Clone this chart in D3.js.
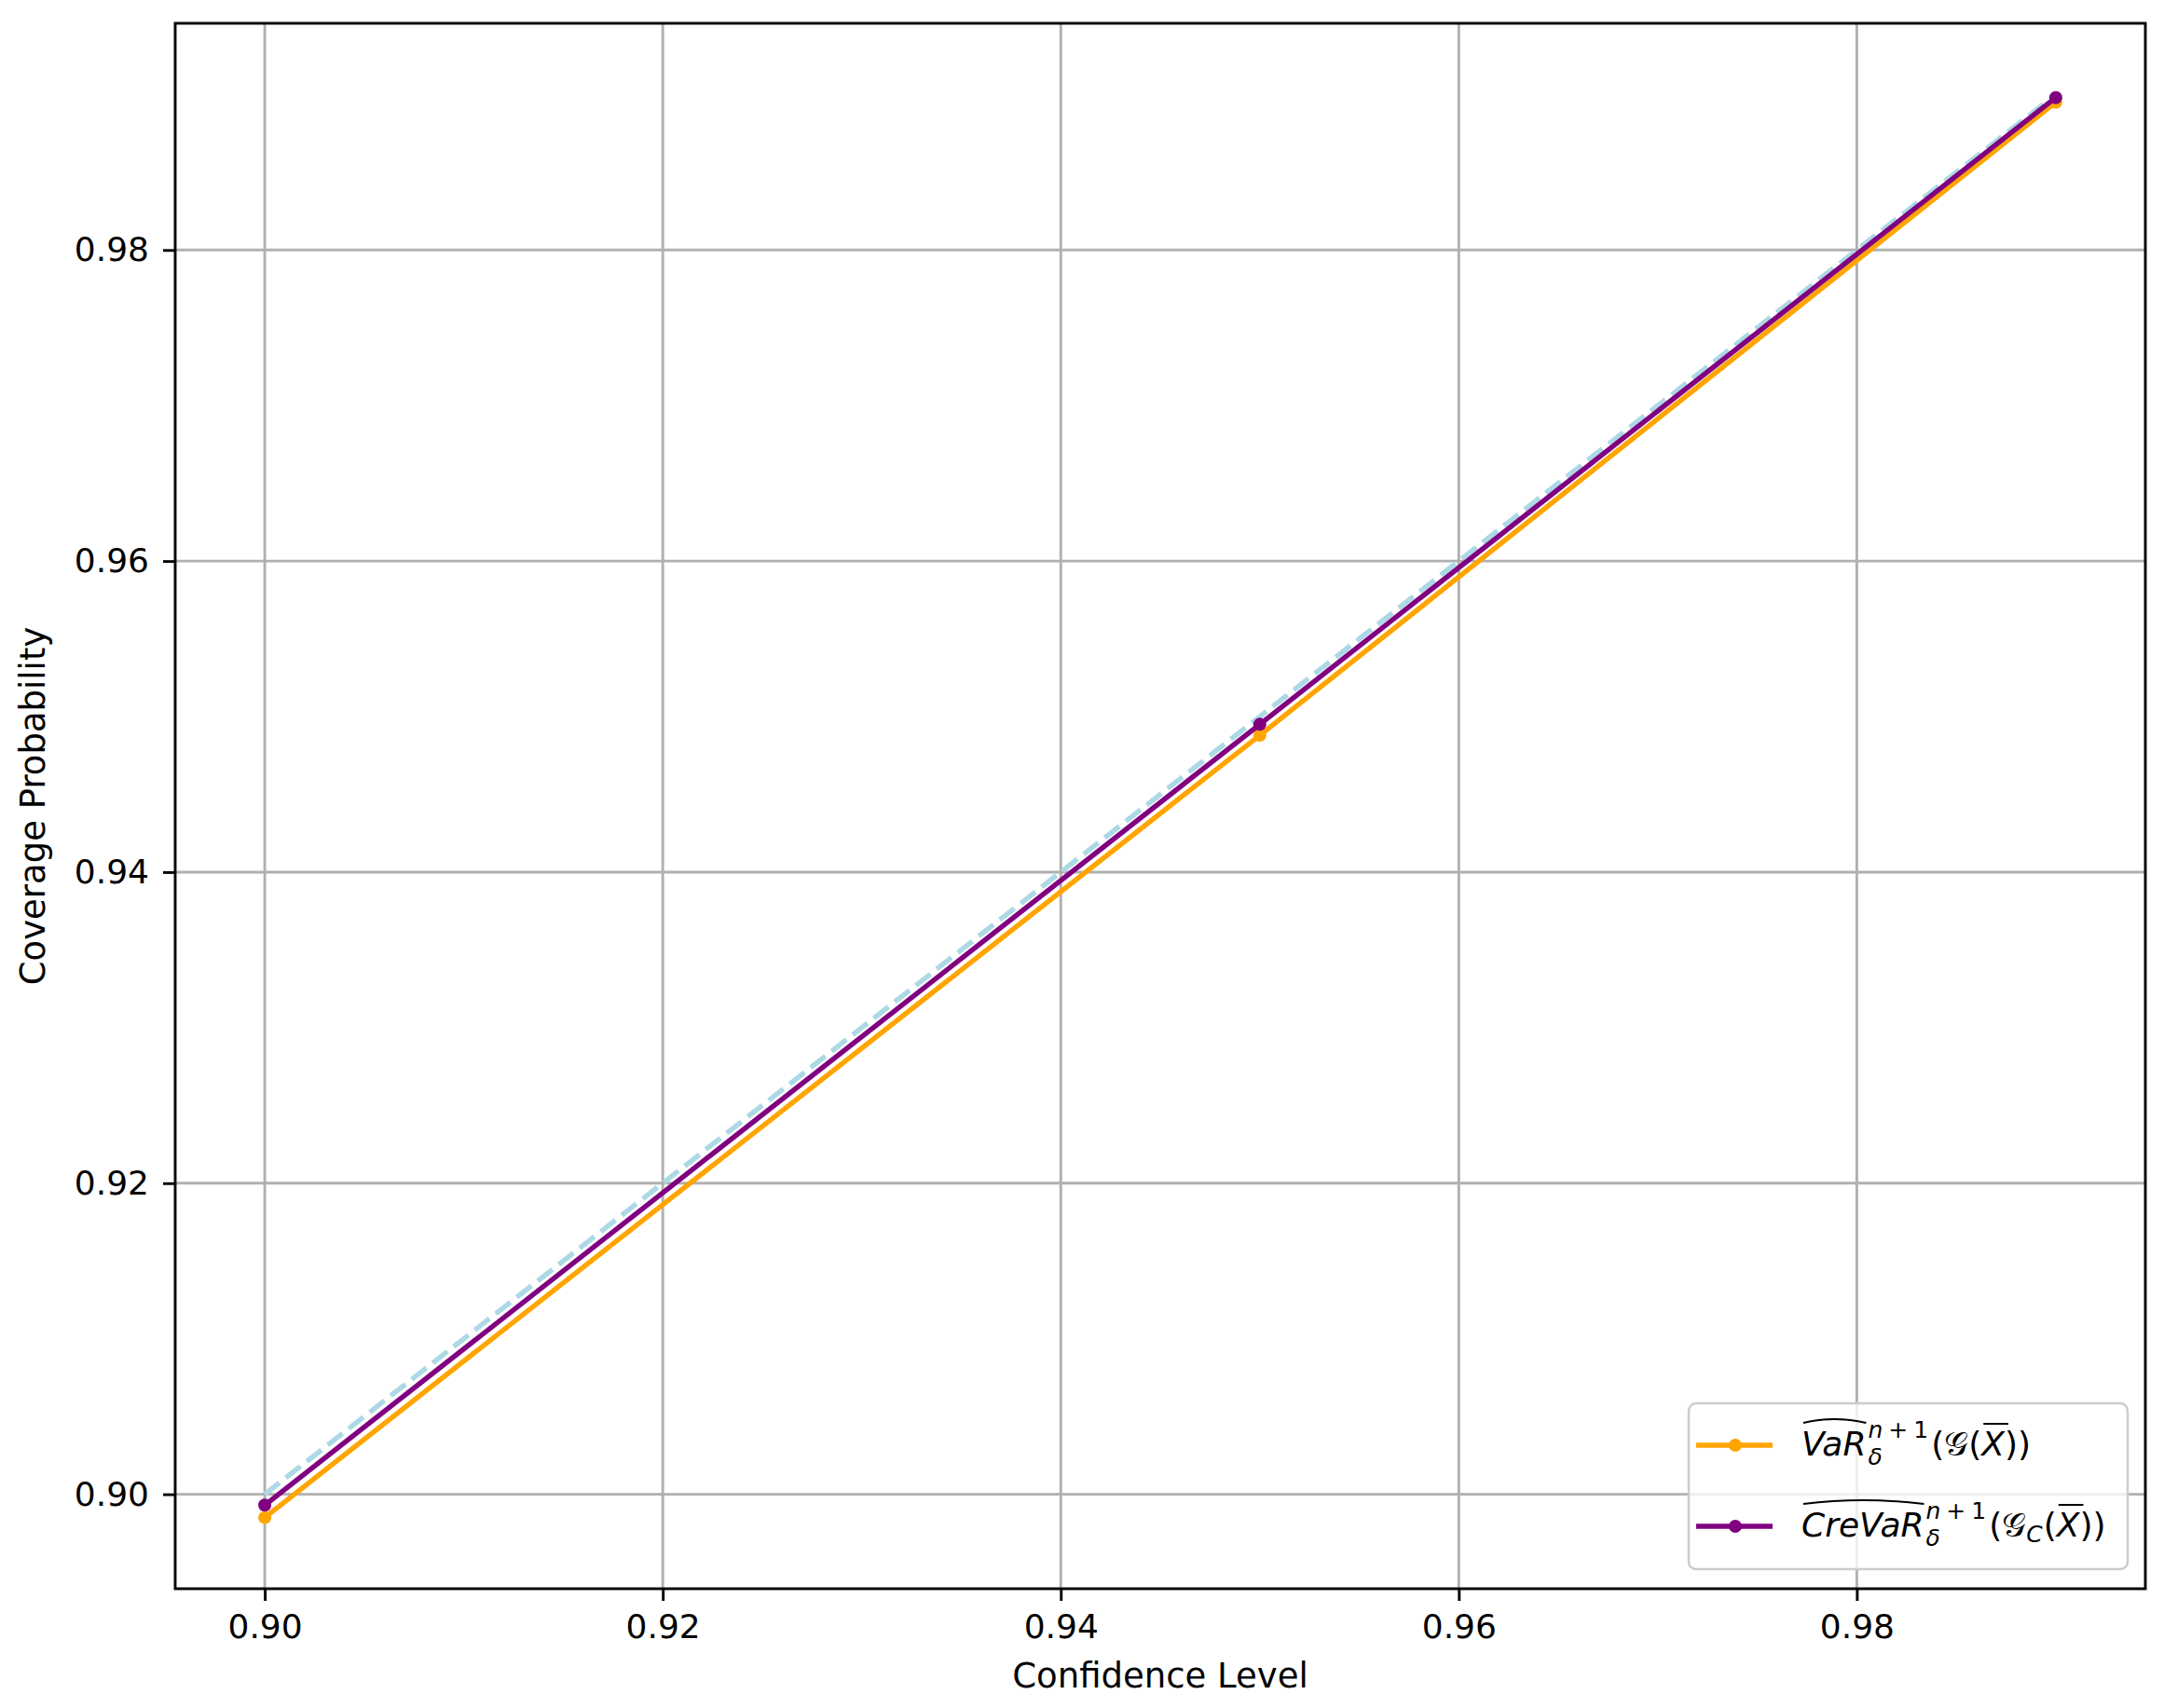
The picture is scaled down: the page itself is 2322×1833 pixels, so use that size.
<!DOCTYPE html>
<html>
<head>
<meta charset="utf-8">
<script src="https://cdn.jsdelivr.net/npm/d3@7"></script>
<style>
  body { margin: 0; background: #fff; }
  text { font-family: "DejaVu Sans", sans-serif; fill: #000; }
</style>
</head>
<body>
<div id="chart"></div>
<script>
// confidence levels and the coverage
var levels = [0.90, 0.95, 0.99];
var varCoverage = [0.8985, 0.9488, 0.9895];
var creCoverage = [0.8993, 0.9495, 0.9898];
var idealCoverage = [0.90, 0.95, 0.99];
var xTicks = [0.90, 0.92, 0.94, 0.96, 0.98];
var yTicks = [0.90, 0.92, 0.94, 0.96, 0.98];
var xLabel = "Confidence Level";
var yLabel = "Coverage Probability";

var W = 2322, H = 1833;
var margin = { top: 25, right: 20, bottom: 128, left: 188 };
var width = W - margin.left - margin.right,
    height = H - margin.top - margin.bottom;

var svg = d3.select("#chart").append("svg")
    .attr("width", W)
    .attr("height", H);

svg.append("rect").attr("width", W).attr("height", H).attr("fill", "#fff");

// matplotlib style 5% margins
function padded(vals) {
    var e = d3.extent(vals), r = e[1] - e[0];
    return [e[0] - 0.05 * r, e[1] + 0.05 * r];
}

var x = d3.scaleLinear().domain(padded(levels)).range([0, width]);
var y = d3.scaleLinear()
    .domain(padded(varCoverage.concat(creCoverage, idealCoverage)))
    .range([height, 0]);

var g = svg.append("g")
    .attr("transform", "translate(" + margin.left + "," + margin.top + ")");

// grid
g.append("g").selectAll("line").data(xTicks).enter().append("line")
    .attr("x1", function (d) { return x(d); })
    .attr("x2", function (d) { return x(d); })
    .attr("y1", 0).attr("y2", height)
    .attr("stroke", "#b0b0b0").attr("stroke-width", 2.9);
g.append("g").selectAll("line").data(yTicks).enter().append("line")
    .attr("y1", function (d) { return y(d); })
    .attr("y2", function (d) { return y(d); })
    .attr("x1", 0).attr("x2", width)
    .attr("stroke", "#b0b0b0").attr("stroke-width", 2.9);

var line = d3.line()
    .x(function (d) { return x(d[0]); })
    .y(function (d) { return y(d[1]); });

function pairs(vals) {
    return levels.map(function (l, i) { return [l, vals[i]]; });
}

g.append("path")
    .datum(pairs(idealCoverage))
    .attr("d", line)
    .attr("fill", "none")
    .attr("stroke", "lightblue")
    .attr("stroke-width", 5.4)
    .attr("stroke-dasharray", "20,8.6");

var series = [
    { vals: varCoverage, color: "orange" },
    { vals: creCoverage, color: "purple" }
];

series.forEach(function (s) {
    g.append("path")
        .datum(pairs(s.vals))
        .attr("d", line)
        .attr("fill", "none")
        .attr("stroke", s.color)
        .attr("stroke-width", 5.4)
        .attr("stroke-linejoin", "round");
    g.append("g").selectAll("circle").data(pairs(s.vals)).enter().append("circle")
        .attr("cx", function (d) { return x(d[0]); })
        .attr("cy", function (d) { return y(d[1]); })
        .attr("r", 7)
        .attr("fill", s.color);
});

// axes
var xAxis = d3.axisBottom(x).tickValues(xTicks).tickFormat(d3.format(".2f"))
    .tickSize(13).tickPadding(14);
var yAxis = d3.axisLeft(y).tickValues(yTicks).tickFormat(d3.format(".2f"))
    .tickSize(13).tickPadding(15);

var gx = g.append("g").attr("transform", "translate(0," + height + ")").call(xAxis);
var gy = g.append("g").call(yAxis);
[gx, gy].forEach(function (a) {
    a.select(".domain").remove();
    a.selectAll(".tick line").attr("stroke", "#000").attr("stroke-width", 2.9);
    a.selectAll(".tick text").attr("font-size", 36).attr("fill", "#000")
        .attr("font-family", "DejaVu Sans");
});

// frame
g.append("rect")
    .attr("width", width).attr("height", height)
    .attr("fill", "none").attr("stroke", "#000").attr("stroke-width", 2.9);

svg.append("text")
    .attr("x", margin.left + width / 2)
    .attr("y", 1811)
    .attr("text-anchor", "middle")
    .attr("font-size", 37)
    .text(xLabel);

svg.append("text")
    .attr("transform", "translate(48," + (margin.top + height / 2) + ") rotate(-90)")
    .attr("text-anchor", "middle")
    .attr("font-size", 37)
    .text(yLabel);

// legend
var legend = svg.append("g").attr("transform", "translate(1812,1506)");
legend.append("rect")
    .attr("width", 471).attr("height", 178)
    .attr("rx", 8)
    .attr("fill", "#fff").attr("fill-opacity", 0.8)
    .attr("stroke", "#cccccc").attr("stroke-width", 2.5);

var legendRows = [
    { color: "orange", name: "VaR", sub: "", y: 45 },
    { color: "purple", name: "CreVaR", sub: "C", y: 132 }
];

function piece(parent, t, px, py, size, italic) {
    var el = parent.append("text")
        .attr("x", px).attr("y", py)
        .attr("font-size", size)
        .attr("font-style", italic ? "italic" : "normal")
        .text(t);
    return el.node().getComputedTextLength();
}

legendRows.forEach(function (r) {
    legend.append("line")
        .attr("x1", 8).attr("x2", 90)
        .attr("y1", r.y).attr("y2", r.y)
        .attr("stroke", r.color).attr("stroke-width", 5.4);
    legend.append("circle")
        .attr("cx", 50).attr("cy", r.y).attr("r", 7).attr("fill", r.color);

    var base = r.y + 11;
    var cx = 121;
    var w = piece(legend, r.name, cx, base, 36, true);
    var hatTop = base - 40, hatEnd = base - 35;
    legend.append("path")
        .attr("d", "M" + (cx + 2) + "," + hatEnd + " Q" + (cx + w * 0.5) + "," + (hatTop - 3) +
            " " + (cx + w) + "," + hatEnd)
        .attr("fill", "none").attr("stroke", "#000").attr("stroke-width", 2);
    cx += w + 2;
    // scripts
    var sx = cx;
    var ws = piece(legend, "n", sx, base - 19, 25, true);
    ws += 6;
    ws += piece(legend, "+", sx + ws, base - 19, 25, false);
    ws += 6;
    ws += piece(legend, "1", sx + ws, base - 19, 25, false);
    var wb = piece(legend, "δ", sx, base + 10, 25, true);
    cx += Math.max(ws, wb) + 3;
    cx += piece(legend, "(", cx, base, 36, false);
    cx += piece(legend, "𝒢", cx, base, 36, false);
    if (r.sub) {
        cx += piece(legend, r.sub, cx, base + 6, 25, true) + 1;
    }
    cx += piece(legend, "(", cx, base, 36, false);
    var wx = piece(legend, "X", cx, base, 36, true);
    legend.append("line")
        .attr("x1", cx + 2).attr("x2", cx + wx + 4)
        .attr("y1", base - 34).attr("y2", base - 34)
        .attr("stroke", "#000").attr("stroke-width", 2);
    cx += wx;
    cx += piece(legend, ")", cx, base, 36, false);
    piece(legend, ")", cx, base, 36, false);
});
</script>
</body>
</html>
